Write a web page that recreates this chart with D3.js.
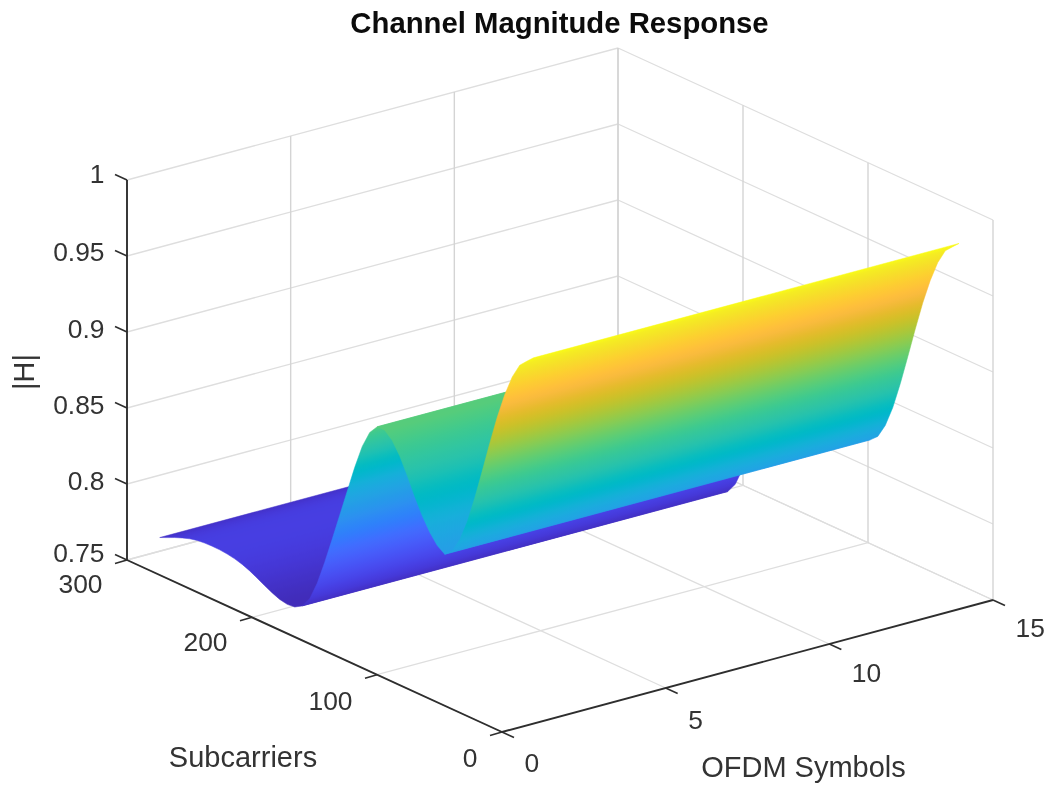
<!DOCTYPE html>
<html><head><meta charset="utf-8">
<script src="https://cdnjs.cloudflare.com/ajax/libs/d3/7.8.5/d3.min.js"></script>
<style>html,body{margin:0;padding:0;background:#fff;overflow:hidden}svg{display:block;filter:blur(0.6px)}text{font-family:"Liberation Sans",Arial,sans-serif}</style>
</head><body><svg id="c" width="1047" height="789"></svg>
<script>
// ---- data ----
const titleText = "Channel Magnitude Response";
const xLabel = "OFDM Symbols", yLabel = "Subcarriers", zLabel = "|H|";
const xTicks = [0,5,10,15];
const yTicks = [0,100,200,300];
const zTicks = [0.75,0.8,0.85,0.9,0.95,1];
const zTickLabels = ["0.75","0.8","0.85","0.9","0.95","1"];
const symbolsFirstLast = [1,14];
const subcarriers = [1,6,12,18,24,30,36,42,48,54,60,66,72,78,84,90,96,102,108,114,120,126,132,138,144,150,156,162,168,174,180,186,192,198,204,210,216,222,228,234,240,246,252,258,264,270,276,282,288,294,300];
const magnitude = [0.990,0.986,0.981,0.971,0.957,0.940,0.9205,0.900,0.880,0.862,0.848,0.8385,0.834,0.8375,0.844,0.8525,0.863,0.8745,0.885,0.893,0.8975,0.8975,0.8915,0.880,0.864,0.846,0.828,0.810,0.7925,0.7765,0.764,0.757,0.754,0.7535,0.7545,0.7565,0.759,0.7617,0.7642,0.7662,0.7676,0.7685,0.769,0.7691,0.7689,0.7684,0.7672,0.7655,0.7635,0.7612,0.759];
const colorDomain = [0.748,0.99];
const parula = [[.2422,.1504,.6603],[.2504,.165,.7076],[.2578,.1818,.7511],[.2647,.1978,.7952],[.2706,.2147,.8364],[.2751,.2342,.871],[.2783,.2559,.8991],[.2803,.2782,.9221],[.2813,.3006,.9414],[.281,.3228,.9579],[.2795,.3447,.9717],[.276,.3667,.9829],[.2699,.3892,.9906],[.2602,.4123,.9952],[.244,.4358,.9988],[.2206,.4603,.9973],[.1963,.4847,.9892],[.1834,.5074,.9798],[.1786,.5289,.9682],[.1764,.5499,.952],[.1687,.5703,.9359],[.154,.5902,.9218],[.146,.6091,.9079],[.138,.6276,.8973],[.1248,.6459,.8883],[.1113,.6635,.8763],[.0952,.6798,.8598],[.0689,.6948,.8394],[.0297,.7082,.8163],[.0036,.7203,.7917],[.0067,.7312,.766],[.0433,.7411,.7394],[.0964,.75,.712],[.1408,.7584,.6842],[.1717,.767,.6554],[.1938,.7758,.6251],[.2161,.7843,.5923],[.247,.7918,.5567],[.2906,.7973,.5188],[.3406,.8008,.4789],[.3909,.8029,.4354],[.4456,.8024,.3909],[.5044,.7993,.348],[.5616,.7942,.3045],[.6174,.7876,.2612],[.672,.7793,.2227],[.7242,.7698,.191],[.7738,.7598,.1646],[.8203,.7498,.1535],[.8634,.7406,.1596],[.9035,.733,.1774],[.9393,.7288,.21],[.9728,.7298,.2394],[.9956,.7434,.2371],[.997,.7659,.2199],[.9952,.7893,.2028],[.9892,.8136,.1885],[.9786,.8386,.1766],[.9676,.8639,.1643],[.961,.889,.1537],[.9597,.9135,.1423],[.9628,.9373,.1265],[.9691,.9606,.1064],[.9769,.9839,.0805]];

// ---- scales and orthographic projection ----
const xS = d3.scaleLinear().domain([0,15]).range([0,1]);
const yS = d3.scaleLinear().domain([0,300]).range([0,1]);
const zS = d3.scaleLinear().domain([0.75,1]).range([0,1]);
const origin = [502,732], ex = [491,-132], ey = [-375,-172], ez = [0,-380];
const project = (x,y,z) => {
  const u=xS(x), v=yS(y), t=zS(z);
  return [origin[0]+u*ex[0]+v*ey[0]+t*ez[0], origin[1]+u*ex[1]+v*ey[1]+t*ez[1]];
};
const ramp = d3.piecewise(d3.interpolateRgb, parula.map(c=>d3.rgb(c[0]*255,c[1]*255,c[2]*255)));
const colorOf = d3.scaleSequential(ramp).domain(colorDomain).clamp(true);

const svg = d3.select("#c");
const defs = svg.append("defs");
const gridCol="#dedede", gridVert="#d4d4d4", axisCol="#2e2e2e", textCol="#333";
const seg=(g,a,b,col,w)=>g.append("line").attr("x1",a[0]).attr("y1",a[1]).attr("x2",b[0]).attr("y2",b[1]).attr("stroke",col).attr("stroke-width",w);

// ---- grid ----
const grid = svg.append("g");
const [x0,x1]=xS.domain(), [y0,y1]=yS.domain(), [z0,z1]=zS.domain();
zTicks.forEach(z=>{
  seg(grid,project(x0,y1,z),project(x1,y1,z),gridCol,1.3);
  seg(grid,project(x1,y1,z),project(x1,y0,z),gridCol,1.3);
});
xTicks.forEach(x=>{
  if(x>x0) seg(grid,project(x,y1,z0),project(x,y1,z1),gridVert,1.4);
  seg(grid,project(x,y0,z0),project(x,y1,z0),gridCol,1.3);
});
yTicks.forEach(y=>{
  seg(grid,project(x1,y,z0),project(x1,y,z1),gridVert,1.4);
  if(y>y0) seg(grid,project(x0,y,z0),project(x1,y,z0),gridCol,1.3);
});

// ---- surface: one gradient polygon per run of the profile that is monotonic on screen, far to near ----
const surf = svg.append("g");
const [sa,sb]=symbolsFirstLast;
const d0=project(sa,0,0.75), d1=project(sb,0,0.75);
const dl=Math.hypot(d1[0]-d0[0],d1[1]-d0[1]);
const nrm=[-(d1[1]-d0[1])/dl,(d1[0]-d0[0])/dl];
const sOf=p=>p[0]*nrm[0]+p[1]*nrm[1];
const order=d3.range(subcarriers.length-1,-1,-1);
const sVals=order.map(i=>sOf(project(sa,subcarriers[i],magnitude[i])));
const runs=[]; let cur=[0];
for(let k=1;k<order.length;k++){
  const sign=Math.sign(sVals[k]-sVals[k-1]);
  if(cur.length>1 && sign!==Math.sign(sVals[cur[1]]-sVals[cur[0]])){runs.push(cur);cur=[k-1];}
  cur.push(k);
}
runs.push(cur);
runs.forEach((run,r)=>{
  const idx=run.map(k=>order[k]);
  const near=idx.map(i=>project(sa,subcarriers[i],magnitude[i]));
  const far=idx.map(i=>project(sb,subcarriers[i],magnitude[i])).reverse();
  const s0=sOf(near[0]), s1=sOf(near[near.length-1]), id="run"+r;
  const gr=defs.append("linearGradient").attr("id",id).attr("gradientUnits","userSpaceOnUse")
    .attr("x1",near[0][0]).attr("y1",near[0][1])
    .attr("x2",near[0][0]+nrm[0]*(s1-s0)).attr("y2",near[0][1]+nrm[1]*(s1-s0));
  idx.forEach((i,j)=>{
    const steps=j<idx.length-1?4:1;
    d3.range(steps).forEach(f=>{
      const m=f/steps, zz=j<idx.length-1?magnitude[i]+(magnitude[idx[j+1]]-magnitude[i])*m:magnitude[i];
      const ss=j<idx.length-1?sVals[run[j]]+(sVals[run[j+1]]-sVals[run[j]])*m:sVals[run[j]];
      gr.append("stop").attr("offset",(ss-s0)/(s1-s0)).attr("stop-color",colorOf(zz));
    });
  });
  surf.append("path").attr("d",d3.line()(near.concat(far))+"Z")
    .attr("fill",`url(#${id})`).attr("stroke",`url(#${id})`).attr("stroke-width",0.5).attr("stroke-linejoin","round");
});

// ---- axes ----
const ax = svg.append("g");
seg(ax,project(x0,y0,z0),project(x1,y0,z0),axisCol,1.9);
seg(ax,project(x0,y0,z0),project(x0,y1,z0),axisCol,1.9);
seg(ax,project(x0,y1,z0),project(x0,y1,z1),axisCol,1.9);
const txt=(s,x,y,anchor,size,weight,col)=>svg.append("text").attr("x",x).attr("y",y).attr("text-anchor",anchor)
  .attr("font-size",size).attr("font-weight",weight||"normal").attr("fill",col||textCol).text(s);
const tickSize=26.4;
const xLabelDrop=[39.5,41,37.5,36.5], yLabelDrop=[35,35.5,34,33], zLabelDrop=[1.5,5.5,5.5,5.5,4.5,2.5];
xTicks.forEach((x,i)=>{
  const p=project(x,y0,z0);
  seg(ax,p,[p[0]+12,p[1]+5.5],axisCol,1.6);
  txt(x,p[0]+22.5,p[1]+xLabelDrop[i],"start",tickSize);
});
yTicks.forEach((y,i)=>{
  const p=project(x0,y,z0);
  seg(ax,p,[p[0]-12,p[1]+3.5],axisCol,1.6);
  txt(y,p[0]-24.5,p[1]+yLabelDrop[i],"end",tickSize);
});
zTicks.forEach((z,i)=>{
  const p=project(x0,y1,z);
  seg(ax,p,[p[0]-12,p[1]-5.5],axisCol,1.6);
  txt(zTickLabels[i],p[0]-22.5,p[1]+zLabelDrop[i],"end",tickSize);
});
txt(titleText,559.5,33,"middle",29.3,"bold","#0c0c0c");
txt(yLabel,243,767,"middle",29);
txt(xLabel,803.5,776.5,"middle",29);
svg.append("text").attr("transform","translate(34,372) rotate(-90)").attr("text-anchor","middle")
  .attr("font-size",29).attr("fill",textCol).text(zLabel);
</script></body></html>
